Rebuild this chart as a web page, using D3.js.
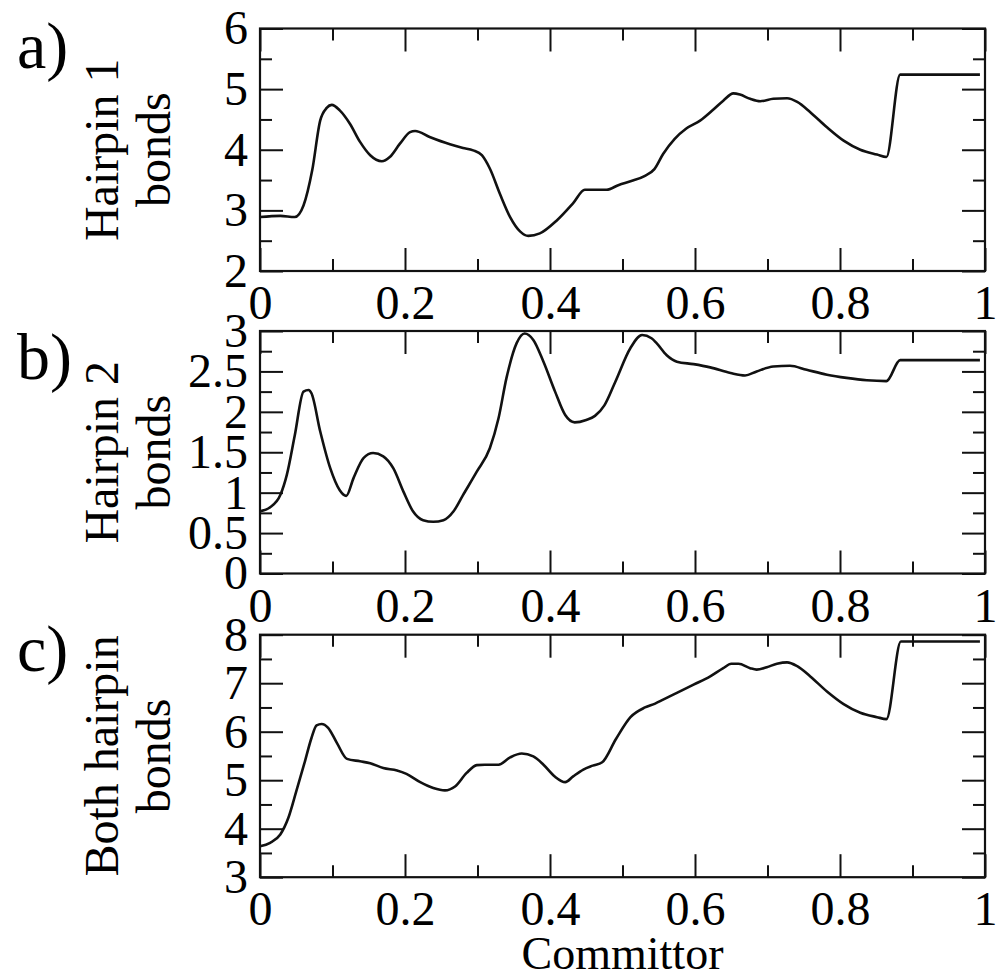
<!DOCTYPE html>
<html>
<head>
<meta charset="utf-8">
<script src="https://cdn.jsdelivr.net/npm/d3@7"></script>
<style>
  body { margin: 0; background: #fff; }
  svg { display: block; }
</style>
</head>
<body>
<div id="chart"></div>
<script>
// committor values (x) and average bond counts (y)
const committorA = [0, 0.028, 0.048, 0.06, 0.072, 0.083, 0.092, 0.099, 0.11, 0.124, 0.138, 0.152, 0.168, 0.179, 0.193, 0.207, 0.214, 0.234, 0.262, 0.28, 0.294, 0.306, 0.317, 0.331, 0.345, 0.359, 0.37, 0.386, 0.409, 0.432, 0.448, 0.465, 0.478, 0.495, 0.511, 0.531, 0.544, 0.556, 0.572, 0.588, 0.607, 0.625, 0.639, 0.653, 0.662, 0.676, 0.69, 0.708, 0.727, 0.741, 0.759, 0.782, 0.805, 0.828, 0.851, 0.864, 0.883, 0.993];
const hairpin1 = [2.89, 2.91, 2.89, 3.08, 3.66, 4.48, 4.69, 4.74, 4.65, 4.43, 4.13, 3.91, 3.81, 3.88, 4.10, 4.29, 4.31, 4.21, 4.09, 4.03, 3.99, 3.91, 3.69, 3.27, 2.89, 2.65, 2.58, 2.62, 2.83, 3.12, 3.34, 3.34, 3.34, 3.42, 3.48, 3.57, 3.68, 3.93, 4.18, 4.35, 4.48, 4.66, 4.81, 4.93, 4.91, 4.84, 4.80, 4.84, 4.85, 4.79, 4.62, 4.37, 4.15, 4.00, 3.92, 3.88, 5.24, 5.24];

const committorB = [0, 0.014, 0.028, 0.037, 0.048, 0.06, 0.067, 0.071, 0.083, 0.097, 0.11, 0.119, 0.129, 0.143, 0.156, 0.17, 0.184, 0.198, 0.211, 0.225, 0.239, 0.253, 0.267, 0.28, 0.299, 0.317, 0.329, 0.34, 0.354, 0.365, 0.377, 0.391, 0.407, 0.421, 0.434, 0.45, 0.462, 0.475, 0.49, 0.511, 0.527, 0.54, 0.547, 0.561, 0.575, 0.598, 0.621, 0.649, 0.669, 0.685, 0.708, 0.731, 0.754, 0.782, 0.809, 0.837, 0.864, 0.883, 0.993];
const hairpin2 = [0.77, 0.82, 0.97, 1.22, 1.71, 2.25, 2.27, 2.23, 1.76, 1.30, 1.03, 0.96, 1.18, 1.43, 1.49, 1.45, 1.30, 1.01, 0.77, 0.66, 0.64, 0.66, 0.77, 0.97, 1.26, 1.55, 1.92, 2.42, 2.85, 2.97, 2.89, 2.62, 2.25, 1.96, 1.87, 1.90, 1.95, 2.08, 2.37, 2.79, 2.95, 2.91, 2.85, 2.70, 2.62, 2.59, 2.55, 2.48, 2.45, 2.50, 2.56, 2.57, 2.52, 2.46, 2.42, 2.39, 2.38, 2.64, 2.64];

const committorC = [0, 0.014, 0.028, 0.039, 0.05, 0.062, 0.071, 0.078, 0.085, 0.094, 0.106, 0.12, 0.138, 0.152, 0.17, 0.189, 0.202, 0.221, 0.239, 0.255, 0.269, 0.285, 0.299, 0.31, 0.329, 0.345, 0.361, 0.377, 0.391, 0.407, 0.421, 0.432, 0.446, 0.459, 0.472, 0.491, 0.511, 0.531, 0.545, 0.556, 0.575, 0.598, 0.621, 0.639, 0.65, 0.66, 0.676, 0.685, 0.699, 0.713, 0.727, 0.741, 0.759, 0.782, 0.805, 0.828, 0.851, 0.864, 0.884, 0.993];
const bothHairpins = [3.64, 3.71, 3.88, 4.22, 4.77, 5.39, 5.87, 6.13, 6.16, 6.08, 5.77, 5.44, 5.39, 5.35, 5.25, 5.20, 5.13, 4.96, 4.84, 4.79, 4.87, 5.15, 5.31, 5.32, 5.32, 5.47, 5.55, 5.49, 5.32, 5.07, 4.96, 5.08, 5.22, 5.30, 5.37, 5.85, 6.30, 6.50, 6.58, 6.66, 6.80, 6.97, 7.14, 7.31, 7.40, 7.40, 7.31, 7.28, 7.33, 7.40, 7.43, 7.35, 7.14, 6.83, 6.57, 6.39, 6.30, 6.26, 7.86, 7.86];

// tick values
const xMajor = [0, 0.2, 0.4, 0.6, 0.8, 1];
const xMinor = [0.1, 0.3, 0.5, 0.7, 0.9];
const yMajorA = [2, 3, 4, 5, 6];
const yMinorA = [2.5, 3.5, 4.5, 5.5];
const yMajorB = [0, 0.5, 1, 1.5, 2, 2.5, 3];
const yMinorB = [0.25, 0.75, 1.25, 1.75, 2.25, 2.75];
const yMajorC = [3, 4, 5, 6, 7, 8];
const yMinorC = [3.5, 4.5, 5.5, 6.5, 7.5];

const panelLetters = ['a)', 'b)', 'c)'];
const yTitles = [['Hairpin 1', 'bonds'], ['Hairpin 2', 'bonds'], ['Both hairpin', 'bonds']];
const xTitle = 'Committor';

const panels = [
  { xs: committorA, ys: hairpin1, domain: [2, 6], major: yMajorA, minor: yMinorA, top: 28.5, letterY: 68 },
  { xs: committorB, ys: hairpin2, domain: [0, 3], major: yMajorB, minor: yMinorB, top: 331, letterY: 379 },
  { xs: committorC, ys: bothHairpins, domain: [3, 8], major: yMajorC, minor: yMinorC, top: 634.7, letterY: 671 }
];

const width = 997;
const height = 980;
const left = 260;
const right = 985;
const plotH = 242.5;
const font = "'Liberation Serif', serif";

const svg = d3.select('#chart')
  .append('svg')
    .attr('width', width)
    .attr('height', height);

const x = d3.scaleLinear().domain([0, 1]).range([left, right]);

function styleAxis(g) {
  g.select('.domain').remove();
  g.selectAll('.tick line').attr('stroke', '#111').attr('stroke-width', 2);
  g.selectAll('.tick text')
    .attr('fill', '#000')
    .style('font-family', font)
    .style('font-size', '48px');
}

panels.forEach((p, i) => {
  const bottom = p.top + plotH;
  const y = d3.scaleLinear().domain(p.domain).range([bottom, p.top]);
  const g = svg.append('g');

  // bottom axis with labels
  g.append('g')
    .attr('transform', `translate(0,${bottom})`)
    .call(d3.axisBottom(x).tickValues(xMajor).tickSize(-23).tickPadding(14).tickFormat(d => String(d)))
    .call(styleAxis);
  g.append('g')
    .attr('transform', `translate(0,${bottom})`)
    .call(d3.axisBottom(x).tickValues(xMinor).tickSize(-12).tickFormat(''))
    .call(styleAxis);
  // top mirror ticks
  g.append('g')
    .attr('transform', `translate(0,${p.top})`)
    .call(d3.axisTop(x).tickValues(xMajor).tickSize(-23).tickFormat(''))
    .call(styleAxis);
  g.append('g')
    .attr('transform', `translate(0,${p.top})`)
    .call(d3.axisTop(x).tickValues(xMinor).tickSize(-12).tickFormat(''))
    .call(styleAxis);

  // left axis with labels
  g.append('g')
    .attr('transform', `translate(${left},0)`)
    .call(d3.axisLeft(y).tickValues(p.major).tickSize(-23).tickPadding(12).tickFormat(d => String(d)))
    .call(styleAxis);
  g.append('g')
    .attr('transform', `translate(${left},0)`)
    .call(d3.axisLeft(y).tickValues(p.minor).tickSize(-12).tickFormat(''))
    .call(styleAxis);
  // right mirror ticks
  g.append('g')
    .attr('transform', `translate(${right},0)`)
    .call(d3.axisRight(y).tickValues(p.major).tickSize(-23).tickFormat(''))
    .call(styleAxis);
  g.append('g')
    .attr('transform', `translate(${right},0)`)
    .call(d3.axisRight(y).tickValues(p.minor).tickSize(-12).tickFormat(''))
    .call(styleAxis);

  // frame
  g.append('rect')
    .attr('x', left)
    .attr('y', p.top)
    .attr('width', right - left)
    .attr('height', plotH)
    .attr('fill', 'none')
    .attr('stroke', '#111')
    .attr('stroke-width', 2.2);

  // curve
  const pts = p.xs.map((c, k) => [c, p.ys[k]]);
  g.append('path')
    .datum(pts)
    .attr('fill', 'none')
    .attr('stroke', '#111')
    .attr('stroke-width', 2.6)
    .attr('stroke-linejoin', 'round')
    .attr('d', d3.line()
      .x(d => x(d[0]))
      .y(d => y(d[1]))
      .curve(d3.curveMonotoneX));

  // panel letter
  g.append('text')
    .attr('x', 17)
    .attr('y', p.letterY)
    .style('font-family', font)
    .style('font-size', '66px')
    .text(panelLetters[i]);

  // y title, two lines
  const cy = p.top + plotH / 2;
  yTitles[i].forEach((line, j) => {
    g.append('text')
      .attr('transform', `translate(${118 + j * 52},${cy}) rotate(-90)`)
      .attr('text-anchor', 'middle')
      .style('font-family', font)
      .style('font-size', '48px')
      .text(line);
  });
});

svg.append('text')
  .attr('x', (left + right) / 2)
  .attr('y', 969)
  .attr('text-anchor', 'middle')
  .style('font-family', font)
  .style('font-size', '46px')
  .text(xTitle);
</script>
</body>
</html>
